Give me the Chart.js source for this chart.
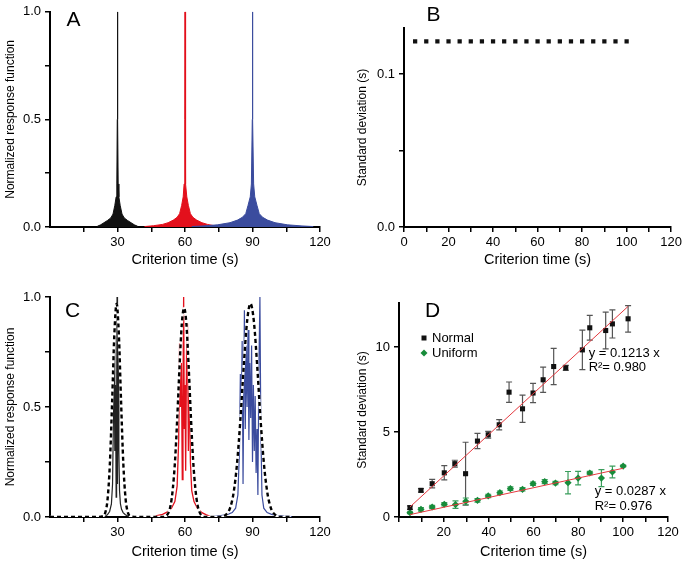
<!DOCTYPE html>
<html><head><meta charset="utf-8">
<script src="https://cdn.jsdelivr.net/npm/chart.js@4.4.0/dist/chart.umd.min.js"></script>
<style>
html,body{margin:0;padding:0;background:#fff;}
#wrap{position:relative;width:685px;height:561px;overflow:hidden;background:#fff;}
canvas{position:absolute;}
</style></head><body>
<div id="wrap">
<canvas id="cA" width="340" height="280" style="left:0;top:0;width:340px;height:280px"></canvas>
<canvas id="cB" width="345" height="280" style="left:340px;top:0;width:345px;height:280px"></canvas>
<canvas id="cC" width="340" height="281" style="left:0;top:280px;width:340px;height:281px"></canvas>
<canvas id="cD" width="345" height="281" style="left:340px;top:280px;width:345px;height:281px"></canvas>
</div>
<script>
// ---------- Panel A: normalized response functions ----------
const aBlackX = [21, 22.5, 24, 25.5, 27, 28, 28.8, 29.4, 29.7, 29.9, 30, 30.1, 30.3, 30.6, 31.2, 32, 33, 34.5, 36, 37.5, 39];
const aBlackY = [0.003, 0.01, 0.02, 0.03, 0.042, 0.06, 0.1, 0.14, 0.2, 0.5, 1.0, 0.5, 0.2, 0.14, 0.1, 0.06, 0.042, 0.03, 0.02, 0.01, 0.003];
const aRedX = [42, 46, 50, 52.5, 54.8, 56.5, 57.6, 58.5, 59.2, 59.6, 59.9, 60, 60.1, 60.4, 60.8, 61.5, 62.4, 63.5, 65.2, 67.5, 70, 74];
const aRedY = [0.002, 0.006, 0.012, 0.02, 0.032, 0.045, 0.062, 0.1, 0.14, 0.2, 0.5, 1.0, 0.5, 0.2, 0.14, 0.1, 0.062, 0.045, 0.032, 0.02, 0.012, 0.004];
const aBlueX = [63, 68, 74.4, 80, 83.3, 85.5, 87, 88, 89, 89.5, 89.9, 90, 90.1, 90.5, 91, 92, 93, 94.5, 96.7, 100, 105.6, 112, 117];
const aBlueY = [0.002, 0.005, 0.01, 0.02, 0.032, 0.045, 0.062, 0.1, 0.14, 0.2, 0.5, 1.0, 0.5, 0.2, 0.14, 0.1, 0.062, 0.045, 0.032, 0.02, 0.01, 0.005, 0.002];

// ---------- Panel B: standard deviation (constant) ----------
const bX = [5, 10, 15, 20, 25, 30, 35, 40, 45, 50, 55, 60, 65, 70, 75, 80, 85, 90, 95, 100];
const bY = [0.1213, 0.1213, 0.1213, 0.1213, 0.1213, 0.1213, 0.1213, 0.1213, 0.1213, 0.1213, 0.1213, 0.1213, 0.1213, 0.1213, 0.1213, 0.1213, 0.1213, 0.1213, 0.1213, 0.1213];

// ---------- Panel C: noisy response functions + gaussian fits ----------
const cBlackX = [24, 25.5, 26.5, 27.3, 27.8, 28.2, 28.5, 28.8, 29.1, 29.4, 29.6, 29.8, 30.0, 30.3, 30.6, 30.9, 31.3, 31.8, 32.5, 33.5, 35];
const cBlackY = [0.003, 0.01, 0.025, 0.06, 0.15, 0.45, 0.82, 0.3, 0.6, 0.09, 0.45, 1.0, 0.15, 0.85, 0.3, 0.12, 0.06, 0.035, 0.02, 0.01, 0.003];
const cRedX = [47, 50, 52, 54, 55.5, 56.5, 57.2, 57.6, 58.0, 58.4, 58.8, 59.1, 59.4, 59.7, 60.0, 60.3, 60.7, 61.1, 61.5, 61.9, 62.4, 63, 64, 65.5, 67.5, 69.5, 71];
const cRedY = [0.005, 0.012, 0.022, 0.04, 0.07, 0.14, 0.35, 0.79, 0.5, 0.7, 0.17, 0.55, 1.0, 0.4, 0.6, 0.21, 0.75, 0.88, 0.3, 0.65, 0.25, 0.12, 0.07, 0.04, 0.02, 0.01, 0.004];
const cBlueX = [73, 76, 79, 81, 82.5, 83.5, 84.2, 84.6, 85.0, 85.4, 85.8, 86.4, 86.8, 87.2, 87.6, 88.0, 88.4, 88.8, 89.2, 89.6, 90.0, 90.4, 90.8, 91.2, 91.6, 92.0, 92.4, 92.8, 93.3, 93.7, 94.2, 95, 96.5, 98.5, 101, 104, 107.5];
const cBlueY = [0.003, 0.006, 0.012, 0.02, 0.04, 0.1, 0.3, 0.65, 0.45, 0.8, 0.15, 0.94, 0.4, 0.78, 0.5, 0.85, 0.35, 0.7, 0.45, 0.78, 0.25, 0.6, 0.3, 0.55, 0.2, 0.4, 0.1, 0.65, 1.0, 0.4, 0.1, 0.04, 0.02, 0.012, 0.007, 0.004, 0.002];
const cFitX = [0, 20, 23.6, 24.6, 25.6, 26.6, 27.6, 28.6, 29.6, 30.6, 31.6, 32.6, 33.6, 34.6, 35.6, 39,
               50, 52.1, 53.6, 54.6, 55.6, 56.6, 57.6, 58.6, 59.6, 60.6, 61.6, 62.6, 63.6, 64.6, 65.6, 67.1, 69,
               76, 78.1, 80.1, 81.6, 83.1, 84.6, 86.1, 87.6, 89.1, 90.6, 92.1, 93.6, 95.1, 96.6, 98.1, 100.1, 102.5, 107];
const cFitY = [0, 0, 0.004, 0.021, 0.082, 0.24, 0.52, 0.83, 0.97, 0.83, 0.52, 0.24, 0.082, 0.021, 0.004, 0,
               0, 0.01, 0.053, 0.13, 0.26, 0.46, 0.69, 0.88, 0.95, 0.88, 0.69, 0.46, 0.26, 0.13, 0.053, 0.01, 0,
               0, 0.0094, 0.043, 0.11, 0.24, 0.44, 0.685, 0.89, 0.97, 0.89, 0.685, 0.44, 0.24, 0.11, 0.043, 0.0094, 0, 0];

// ---------- Panel D: SD vs criterion time ----------
const normalX = [4.9, 9.8, 14.8, 20.2, 24.9, 29.7, 35, 39.8, 44.7, 49.1, 55.1, 59.8, 64.3, 69, 74.4, 81.8, 85.1, 92.2, 95.2, 102.2];
const normalY = [0.55, 1.57, 1.96, 2.6, 3.14, 2.55, 4.47, 4.84, 5.43, 7.35, 6.37, 7.3, 8.08, 8.86, 8.78, 9.84, 11.14, 10.98, 11.37, 11.67];
const normalErr = [0.1, 0.1, 0.25, 0.42, 0.2, 1.85, 0.45, 0.2, 0.3, 0.6, 0.8, 0.57, 0.74, 1.07, 0.15, 1.16, 0.73, 1.08, 0.83, 0.78];
const uniformX = [4.9, 9.8, 14.8, 20.2, 25.2, 29.8, 35, 39.8, 45, 49.7, 55.1, 59.8, 65, 69.8, 75.4, 79.9, 85.1, 90.3, 95.2, 100];
const uniformY = [0.25, 0.45, 0.59, 0.75, 0.73, 0.92, 0.98, 1.24, 1.43, 1.67, 1.63, 1.96, 2.08, 2.0, 2.02, 2.29, 2.59, 2.29, 2.65, 3.0];
const uniformErr = [0.05, 0.1, 0.1, 0.1, 0.22, 0.2, 0.1, 0.1, 0.1, 0.1, 0.1, 0.1, 0.12, 0.1, 0.66, 0.4, 0.1, 0.5, 0.35, 0.05];
const normalFitX = [4.9, 102.2];
const normalFitY = [0.59, 12.4];
const uniformFitX = [4.9, 100];
const uniformFitY = [0.14, 2.87];

// ---------- Tick values and labels ----------
const ticksRespX = [15, 30, 45, 60, 75, 90, 105, 120];
const labelsRespX = {30: '30', 60: '60', 90: '90', 120: '120'};
const ticksRespY = [0, 0.25, 0.5, 0.75, 1.0];
const labelsRespY = {0: '0.0', 0.5: '0.5', 1: '1.0'};
const ticksTimeX = [0, 10, 20, 30, 40, 50, 60, 70, 80, 90, 100, 110, 120];
const labelsBX = {0: '0', 20: '20', 40: '40', 60: '60', 80: '80', 100: '100', 120: '120'};
const labelsDX = {20: '20', 40: '40', 60: '60', 80: '80', 100: '100', 120: '120'};
const ticksBY = [0, 0.05, 0.1];
const labelsBY = {0: '0.0', 0.1: '0.1'};
const ticksDY = [0, 5, 10];
const labelsDY = {0: '0', 5: '5', 10: '10'};

const pts = (xs, ys) => xs.map((x, i) => ({x: x, y: ys[i]}));

Chart.defaults.font.family = "'Liberation Sans', Arial, Helvetica, sans-serif";
Chart.defaults.color = '#000';

function axis(o) {
  return {
    type: 'linear', min: o.min, max: o.max,
    afterBuildTicks: s => { s.ticks = o.ticks.map(v => ({value: v})); },
    afterFit: s => { if (o.h) s.height = o.size; else s.width = o.size; },
    ticks: {autoSkip: false, maxRotation: 0, minRotation: 0, padding: o.h ? 3 : 4, color: '#000',
      font: {size: 13}, callback: v => (o.labels[v] !== undefined ? o.labels[v] : '')},
    grid: {display: true, drawOnChartArea: false, drawTicks: true, tickLength: 5, color: '#000', lineWidth: 1.5},
    border: {display: true, color: '#000', width: 2},
    title: {display: true, text: o.title, color: '#000', font: {size: o.h ? 14.5 : 12},
      padding: o.h ? {top: 0, bottom: 0} : {top: o.tpad, bottom: 0}}
  };
}

function extras(cfg) {
  return {
    id: 'extras',
    beforeDatasetsDraw(chart) {
      const ctx = chart.ctx, ys = chart.scales.y;
      chart.data.datasets.forEach((ds, i) => {
        if (!ds.errors) return;
        const meta = chart.getDatasetMeta(i);
        ctx.save();
        ctx.strokeStyle = ds.errorColor; ctx.lineWidth = 1.2;
        meta.data.forEach((el, j) => {
          const e = ds.errors[j];
          const v = ds.data[j].y;
          const y1 = ys.getPixelForValue(v + e), y2 = ys.getPixelForValue(v - e);
          ctx.beginPath();
          ctx.moveTo(el.x, y1); ctx.lineTo(el.x, y2);
          ctx.moveTo(el.x - 3, y1); ctx.lineTo(el.x + 3, y1);
          ctx.moveTo(el.x - 3, y2); ctx.lineTo(el.x + 3, y2);
          ctx.stroke();
        });
        ctx.restore();
      });
    },
    afterDraw(chart) {
      const ctx = chart.ctx, ca = chart.chartArea;
      ctx.save();
      ctx.fillStyle = '#000';
      ctx.textBaseline = 'middle';
      ctx.textAlign = 'center';
      ctx.font = "21px 'Liberation Sans', Arial, sans-serif";
      ctx.fillText(cfg.letter, ca.left + cfg.dx, ca.top + cfg.dy);
      if (cfg.legend) {
        ctx.font = "13px 'Liberation Sans', Arial, sans-serif";
        ctx.textAlign = 'left';
        cfg.legend.forEach(it => {
          const x = ca.left + it.dx, y = ca.top + it.dy;
          ctx.fillStyle = it.color;
          ctx.beginPath();
          if (it.shape === 'square') { ctx.rect(x - 2.5, y - 2.5, 5, 5); }
          else { ctx.moveTo(x, y - 3.5); ctx.lineTo(x + 3.5, y); ctx.lineTo(x, y + 3.5); ctx.lineTo(x - 3.5, y); ctx.closePath(); }
          ctx.fill();
          ctx.fillStyle = '#000';
          ctx.fillText(it.text, x + 8, y);
        });
      }
      if (cfg.notes) {
        ctx.font = "13px 'Liberation Sans', Arial, sans-serif";
        ctx.textAlign = 'left';
        ctx.fillStyle = '#000';
        cfg.notes.forEach(n => {
          ctx.fillText(n.text, chart.scales.x.getPixelForValue(n.x), chart.scales.y.getPixelForValue(n.y));
        });
      }
      ctx.restore();
    }
  };
}

const common = {responsive: false, animation: false, events: [],
  plugins: {legend: {display: false}, tooltip: {enabled: false}}};

const RED = '#e3101c', BLUE = '#3b4c9e', BLACK = '#111111', GREEN = '#178c3a';

// Panel A
new Chart(document.getElementById('cA'), {
  type: 'line',
  data: {datasets: [
    {data: pts(aBlueX, aBlueY), borderColor: BLUE, backgroundColor: BLUE, fill: 'origin', borderWidth: 1, pointRadius: 0, order: 1},
    {data: pts(aRedX, aRedY), borderColor: RED, backgroundColor: RED, fill: 'origin', borderWidth: 1, pointRadius: 0, order: 2},
    {data: pts(aBlackX, aBlackY), borderColor: BLACK, backgroundColor: BLACK, fill: 'origin', borderWidth: 1, pointRadius: 0, order: 3}
  ]},
  options: Object.assign({}, common, {
    layout: {padding: {top: 8, right: 20, bottom: 11, left: 0}},
    scales: {
      x: axis({min: 0, max: 120, ticks: ticksRespX, labels: labelsRespX, title: 'Criterion time (s)', h: true, size: 42}),
      y: axis({min: 0, max: 1, ticks: ticksRespY, labels: labelsRespY, title: 'Normalized response function', size: 50, tpad: 3})
    }
  }),
  plugins: [extras({letter: 'A', dx: 23.5, dy: 8})]
});

// Panel B
new Chart(document.getElementById('cB'), {
  type: 'line',
  data: {datasets: [
    {data: pts(bX, bY), showLine: false, pointStyle: 'rect', pointRadius: 3, backgroundColor: BLACK, borderColor: BLACK, borderWidth: 0}
  ]},
  options: Object.assign({}, common, {
    layout: {padding: {top: 28, right: 11, bottom: 11, left: 0}},
    scales: {
      x: axis({min: 0, max: 120, ticks: ticksTimeX, labels: labelsBX, title: 'Criterion time (s)', h: true, size: 42}),
      y: axis({min: 0, max: 0.13, ticks: ticksBY, labels: labelsBY, title: 'Standard deviation (s)', size: 64, tpad: 15})
    }
  }),
  plugins: [extras({letter: 'B', dx: 29.5, dy: -13})]
});

// Panel C
new Chart(document.getElementById('cC'), {
  type: 'line',
  data: {datasets: [
    {data: pts(cFitX, cFitY), borderColor: '#000', borderWidth: 2.4, borderDash: [4, 3], pointRadius: 0, cubicInterpolationMode: 'monotone', fill: false, order: 0},
    {data: pts(cFitX, cFitY), borderColor: '#ffffff', borderWidth: 2.4, pointRadius: 0, cubicInterpolationMode: 'monotone', fill: false, order: 1},
    {data: pts(cBlackX, cBlackY), borderColor: '#222', borderWidth: 1.2, pointRadius: 0, fill: false, order: 2},
    {data: pts(cRedX, cRedY), borderColor: RED, borderWidth: 1.3, pointRadius: 0, fill: false, order: 3},
    {data: pts(cBlueX, cBlueY), borderColor: BLUE, borderWidth: 1.2, pointRadius: 0, fill: false, order: 4}
  ]},
  options: Object.assign({}, common, {
    layout: {padding: {top: 17, right: 20, bottom: 0, left: 0}},
    scales: {
      x: axis({min: 0, max: 120, ticks: ticksRespX, labels: labelsRespX, title: 'Criterion time (s)', h: true, size: 44}),
      y: axis({min: 0, max: 1, ticks: ticksRespY, labels: labelsRespY, title: 'Normalized response function', size: 50, tpad: 3})
    }
  }),
  plugins: [extras({letter: 'C', dx: 22.5, dy: 14})]
});

// Panel D
new Chart(document.getElementById('cD'), {
  type: 'line',
  data: {datasets: [
    {data: pts(normalFitX, normalFitY), borderColor: '#e4393f', borderWidth: 1, pointRadius: 0, fill: false, order: 0},
    {data: pts(uniformFitX, uniformFitY), borderColor: '#e4393f', borderWidth: 1, pointRadius: 0, fill: false, order: 1},
    {data: pts(normalX, normalY), showLine: false, pointStyle: 'rect', pointRadius: 3.6, backgroundColor: BLACK, borderColor: BLACK, borderWidth: 0,
      errors: normalErr, errorColor: '#555555', order: 2},
    {data: pts(uniformX, uniformY), showLine: false, pointStyle: 'rectRot', pointRadius: 3.6, backgroundColor: GREEN, borderColor: GREEN, borderWidth: 0,
      errors: uniformErr, errorColor: '#3a9e5c', order: 3}
  ]},
  options: Object.assign({}, common, {
    layout: {padding: {top: 23, right: 17, bottom: 0, left: 0}},
    scales: {
      x: axis({min: 0, max: 120, ticks: ticksTimeX, labels: labelsDX, title: 'Criterion time (s)', h: true, size: 44}),
      y: axis({min: 0, max: 12.6, ticks: ticksDY, labels: labelsDY, title: 'Standard deviation (s)', size: 59, tpad: 15})
    }
  }),
  plugins: [extras({letter: 'D', dx: 33.5, dy: 8,
    legend: [{shape: 'square', color: BLACK, text: 'Normal', dx: 25, dy: 35}, {shape: 'diamond', color: GREEN, text: 'Uniform', dx: 25, dy: 50}],
    notes: [{text: 'y = 0.1213 x', x: 84.6, y: 9.65}, {text: 'R\u00B2= 0.980', x: 84.6, y: 8.8},
            {text: 'y = 0.0287 x', x: 87.3, y: 1.53}, {text: 'R\u00B2= 0.976', x: 87.3, y: 0.65}]})]
});
</script>
</body></html>
